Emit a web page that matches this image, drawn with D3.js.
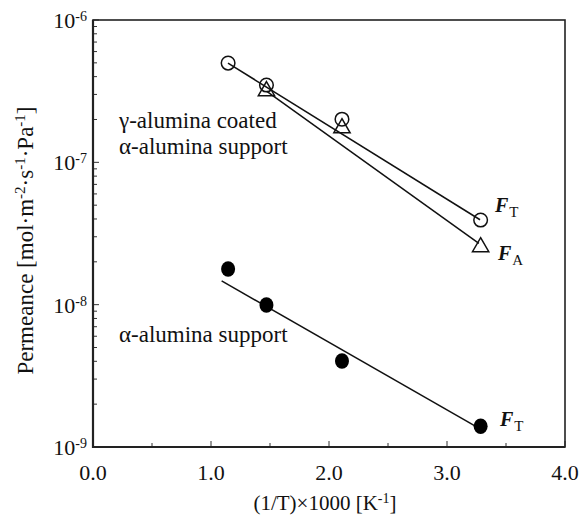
<!DOCTYPE html>
<html>
<head>
<meta charset="utf-8">
<script src="https://cdn.jsdelivr.net/npm/d3@7"></script>
<style>
  body { margin: 0; background: #fff; }
  .frame { fill: none; stroke: #222; stroke-width: 1.6; }
  .tick  { stroke: #333; stroke-width: 1; }
  .fit   { fill: none; stroke: #111; stroke-width: 1.5; }
</style>
</head>
<body>
<svg id="chart"></svg>
<script>
// 1/T x 1000 [K^-1] for the four temperatures
const invT = [1.145, 1.47, 2.11, 3.285];

// gamma-alumina coated, F_T (open circles) and F_A (open triangles)
const gammaFT = [4.98e-7, 3.49e-7, 2.01e-7, 3.93e-8];
const gammaFA = [null,    3.17e-7, 1.74e-7, 2.54e-8];
// alpha-alumina support, F_T (filled circles)
const alphaFT = [1.78e-8, 9.95e-9, 4.02e-9, 1.40e-9];

// fitted lines, endpoints
const fitGammaFT = [[1.144, 4.98e-7], [3.28, 3.95e-8]];
const fitGammaFA = [[1.47, 3.17e-7], [3.27, 2.70e-8]];
const fitAlphaFT = [[1.09, 1.47e-8], [3.255, 1.38e-9]];

const xTicks = [0, 1, 2, 3, 4];
const xMinor = [0.5, 1.5, 2.5, 3.5];
const yExps  = [-6, -7, -8, -9];

const SVG_W = 579, SVG_H = 515;
const PL = 93, PR = 565, PT = 20, PB = 447;
const FONT = '"Liberation Serif", "Times New Roman", Times, serif';

const x = d3.scaleLinear().domain([0, 4]).range([PL, PR]);
const y = d3.scaleLog().domain([1e-9, 1e-6]).range([PB, PT]);

const svg = d3.select('#chart')
  .attr('width', SVG_W)
  .attr('height', SVG_H)
  .attr('viewBox', `0 0 ${SVG_W} ${SVG_H}`)
  .attr('font-family', FONT)
  .attr('fill', '#111');

// y ticks: majors + minors, drawn inward on the left axis
const yMinor = [];
[-9, -8, -7].forEach(e => {
  for (let k = 2; k <= 9; k++) yMinor.push(k * Math.pow(10, e));
});
svg.append('g').selectAll('line.ymin').data(yMinor).join('line')
  .attr('class', 'tick')
  .attr('x1', PL).attr('x2', PL + 4)
  .attr('y1', d => y(d)).attr('y2', d => y(d));
svg.append('g').selectAll('line.ymaj').data(yExps).join('line')
  .attr('class', 'tick')
  .attr('x1', PL).attr('x2', PL + 6)
  .attr('y1', d => y(Math.pow(10, d))).attr('y2', d => y(Math.pow(10, d)));

// x ticks inward on the bottom axis
svg.append('g').selectAll('line.xmaj').data(xTicks).join('line')
  .attr('class', 'tick')
  .attr('x1', d => x(d)).attr('x2', d => x(d))
  .attr('y1', PB).attr('y2', PB - 6);
svg.append('g').selectAll('line.xmin').data(xMinor).join('line')
  .attr('class', 'tick')
  .attr('x1', d => x(d)).attr('x2', d => x(d))
  .attr('y1', PB).attr('y2', PB - 4);

svg.append('rect')
  .attr('class', 'frame')
  .attr('x', PL).attr('y', PT)
  .attr('width', PR - PL).attr('height', PB - PT);
svg.append('path')
  .attr('d', `M${PL},${PT} V${PB} H${PR}`)
  .attr('fill', 'none').attr('stroke', '#222').attr('stroke-width', 2.2);

// y tick labels 10^n
const yLab = svg.append('g').selectAll('text').data(yExps).join('text')
  .attr('x', 87)
  .attr('y', d => y(Math.pow(10, d)) + 8)
  .attr('text-anchor', 'end')
  .attr('font-size', 22);
yLab.append('tspan').text('10');
yLab.append('tspan').attr('dy', -7).attr('font-size', 14).text(d => d);

// x tick labels
svg.append('g').selectAll('text').data(xTicks).join('text')
  .attr('x', d => x(d))
  .attr('y', 480)
  .attr('text-anchor', 'middle')
  .attr('font-size', 22)
  .text(d => d.toFixed(1));

// axis titles
const xt = svg.append('text')
  .attr('x', 325).attr('y', 510)
  .attr('text-anchor', 'middle')
  .attr('font-size', 21);
xt.append('tspan').text('(1/T)\u00d71000 [K');
xt.append('tspan').attr('dy', -7).attr('font-size', 14).text('-1');
xt.append('tspan').attr('dy', 7).text(']');

const yt = svg.append('text')
  .attr('transform', `translate(33,${(PT + PB) / 2 + 7}) rotate(-90)`)
  .attr('text-anchor', 'middle')
  .attr('font-size', 23);
const ytParts = [['Permeance [mol\u00b7m', 0], ['-2', 1], ['\u00b7s', 0], ['-1', 1], ['\u00b7Pa', 0], ['-1', 1], [']', 0]];
let prevSup = 0;
ytParts.forEach(([t, sup]) => {
  yt.append('tspan')
    .attr('dy', (sup - prevSup) * -8)
    .attr('font-size', sup ? 15 : 23)
    .text(t);
  prevSup = sup;
});

// fitted lines
const line = d3.line().x(d => x(d[0])).y(d => y(d[1]));
[fitGammaFT, fitGammaFA, fitAlphaFT].forEach(f => {
  svg.append('path').attr('class', 'fit').attr('d', line(f));
});

// markers
const pts = (vals) => invT.map((t, i) => [t, vals[i]]).filter(d => d[1] != null);

svg.append('g').selectAll('circle').data(pts(gammaFT)).join('circle')
  .attr('cx', d => x(d[0])).attr('cy', d => y(d[1]))
  .attr('r', 6.8)
  .attr('fill', 'none').attr('stroke', '#111').attr('stroke-width', 1.5);

const tri = d3.symbol().type(d3.symbolTriangle).size(115);
svg.append('g').selectAll('path').data(pts(gammaFA)).join('path')
  .attr('d', tri)
  .attr('transform', d => `translate(${x(d[0])},${y(d[1])})`)
  .attr('fill', 'none').attr('stroke', '#111').attr('stroke-width', 1.5);

svg.append('g').selectAll('ellipse').data(pts(alphaFT)).join('ellipse')
  .attr('cx', d => x(d[0])).attr('cy', d => y(d[1]))
  .attr('rx', 7).attr('ry', 7.8)
  .attr('fill', '#000');

// in-plot labels
const lab = [
  ['\u03b3-alumina coated', 119, 128],
  ['\u03b1-alumina support', 119, 154],
  ['\u03b1-alumina support', 119, 342]
];
svg.append('g').selectAll('text').data(lab).join('text')
  .attr('x', d => d[1]).attr('y', d => d[2])
  .attr('font-size', 23)
  .text(d => d[0]);

const fLab = [['T', 495, 212], ['A', 498, 260], ['T', 500, 426]];
const fl = svg.append('g').selectAll('text').data(fLab).join('text')
  .attr('x', d => d[1]).attr('y', d => d[2]);
fl.append('tspan')
  .attr('font-size', 20).attr('font-weight', 'bold').attr('font-style', 'italic')
  .text('F');
fl.append('tspan')
  .attr('dx', 1).attr('dy', 5)
  .attr('font-size', 15)
  .text(d => d[0]);
</script>
</body>
</html>
